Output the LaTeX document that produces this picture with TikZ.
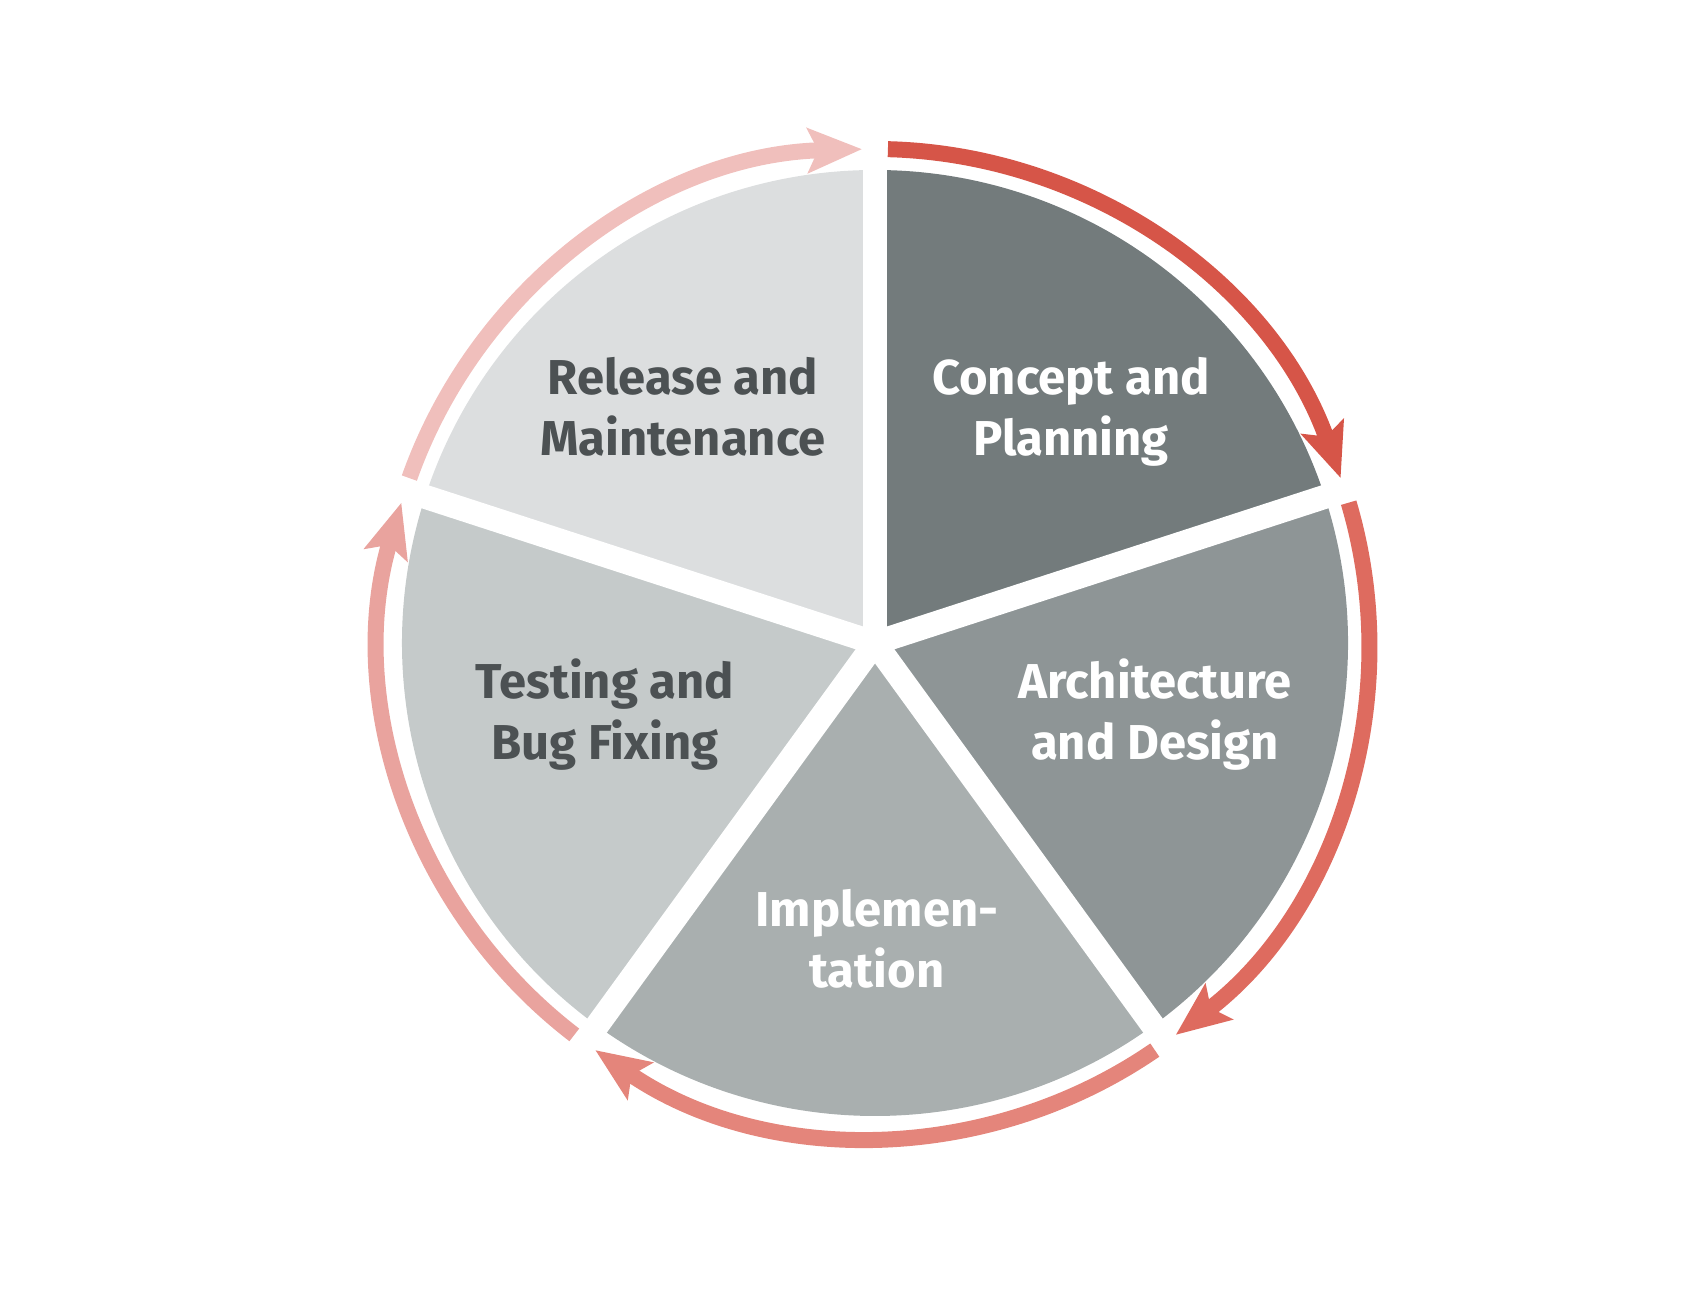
\documentclass[tikz,border=0pt]{standalone}
\usepackage{fontspec}
\setmainfont{Fira Sans}
\usetikzlibrary{arrows.meta}
\definecolor{conceptgray}{HTML}{737B7C}
\definecolor{archgray}{HTML}{8E9596}
\definecolor{implgray}{HTML}{A9AFAF}
\definecolor{testgray}{HTML}{C5CACA}
\definecolor{releasegray}{HTML}{DCDEDF}
\definecolor{labeldark}{HTML}{4C5153}
\definecolor{conceptred}{HTML}{D65548}
\definecolor{archred}{HTML}{DE6B5F}
\definecolor{implred}{HTML}{E4857B}
\definecolor{testred}{HTML}{E9A39E}
\definecolor{releasered}{HTML}{F0BFBC}

\begin{document}
\begin{tikzpicture}[x=0.5pt, y=0.5pt,
    phase/.style={font=\bfseries\fontsize{24.5pt}{30.5pt}\selectfont, align=center, inner sep=0pt},
    cyclearrow/.style={line width=8pt, -{Stealth[length=27pt, width=22pt, inset=5pt]}},
    gapline/.style={white, line width=12pt}]
    \useasboundingbox (0,0) rectangle (1706,1310);
    \coordinate (c) at (875, 667);
    \fill[conceptgray] (c) -- ++(90:473) arc[start angle=90, end angle=18, radius=473] -- cycle;
    \fill[archgray] (c) -- ++(18:473) arc[start angle=18, end angle=-54, radius=473] -- cycle;
    \fill[implgray] (c) -- ++(-54:473) arc[start angle=-54, end angle=-126, radius=473] -- cycle;
    \fill[testgray] (c) -- ++(-126:473) arc[start angle=-126, end angle=-198, radius=473] -- cycle;
    \fill[releasegray] (c) -- ++(162:473) arc[start angle=162, end angle=90, radius=473] -- cycle;
    \foreach \a in {90,18,-54,-126,162}
        \draw[gapline] (c) -- ++(\a:480);
    \draw[cyclearrow, conceptred] ([shift={(88.5:494)}]c) arc[start angle=88.5, end angle=19.5, radius=494];
    \draw[cyclearrow, archred] ([shift={(16.5:494)}]c) arc[start angle=16.5, end angle=-52.5, radius=494];
    \draw[cyclearrow, implred] ([shift={(-55.5:494)}]c) arc[start angle=-55.5, end angle=-124.5, radius=494];
    \draw[cyclearrow, testred] ([shift={(-127.5:494)}]c) arc[start angle=-127.5, end angle=-196.5, radius=494];
    \draw[cyclearrow, releasered] ([shift={(160.5:494)}]c) arc[start angle=160.5, end angle=91.5, radius=494];
    \node[phase, white] (concept) at (1071, 898) {Concept and\\Planning};
    \node[phase, white] (arch) at (1155, 595) {Architecture\\and Design};
    \node[phase, white] (impl) at (877, 371) {Implemen-\\tation};
    \node[phase, labeldark] (test) at (605, 595) {Testing and\\Bug Fixing};
    \node[phase, labeldark] (release) at (683, 903) {Release and\\Maintenance};
\end{tikzpicture}
\end{document}
